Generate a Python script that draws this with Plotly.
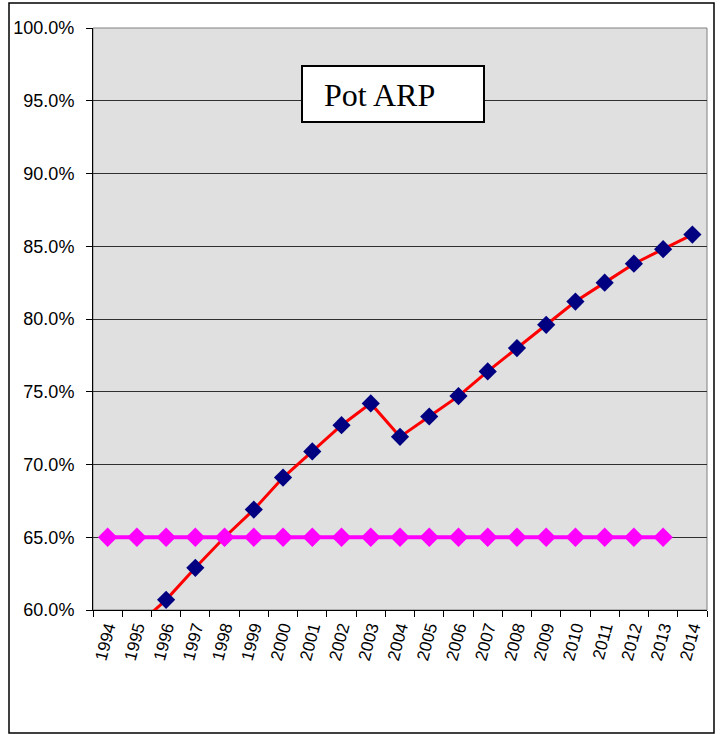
import plotly.graph_objects as go

years = [str(y) for y in range(1994, 2015)]
pot_arp = [0.569, 0.589, 0.607, 0.629, 0.650, 0.669, 0.691, 0.709, 0.727, 0.742,
           0.719, 0.733, 0.747, 0.764, 0.780, 0.796, 0.812, 0.825, 0.838, 0.848, 0.858]
target_years = [str(y) for y in range(1994, 2014)]
target = [0.65] * 20

fig = go.Figure()
fig.add_trace(go.Scatter(
    x=years, y=pot_arp, mode="lines+markers",
    line=dict(color="#FF0000", width=3),
    marker=dict(symbol="diamond", size=14, color="#000080"),
    cliponaxis=True, showlegend=False))
fig.add_trace(go.Scatter(
    x=target_years, y=target, mode="lines+markers",
    line=dict(color="#FF00FF", width=4),
    marker=dict(symbol="diamond", size=15, color="#FF00FF"),
    cliponaxis=False, showlegend=False))

W, H = 721, 734
L, R, T, B = 93, 14, 28, 124
pw, ph = W - L - R, H - T - B

def px(x):
    return (x - L) / pw

def py(y):
    return (H - B - y) / ph

fig.update_layout(
    width=W, height=H,
    margin=dict(l=L, r=R, t=T, b=B, pad=0),
    paper_bgcolor="white", plot_bgcolor="#E0E0E0",
    font=dict(family="Liberation Sans, Arial, sans-serif", color="black"),
    xaxis=dict(type="category", range=[-0.5, 20.5], tickson="boundaries",
               ticks="outside", ticklen=6, tickcolor="black",
               showline=True, linecolor="black", linewidth=1,
               showgrid=False, tickangle=-75,
               tickfont=dict(size=17, family="Liberation Sans, Arial, sans-serif")),
    yaxis=dict(range=[0.6, 1.0], dtick=0.05, tickformat=".1%",
               ticks="outside", ticklen=6, tickcolor="black",
               showline=True, linecolor="black", linewidth=1,
               showgrid=True, gridcolor="#303030", gridwidth=1, zeroline=False,
               ticklabelstandoff=8,
               tickfont=dict(size=18, family="Liberation Sans, Arial, sans-serif")),
    shapes=[
        dict(type="rect", xref="paper", yref="paper", x0=0, x1=1, y0=0, y1=1,
             line=dict(color="#808080", width=1), layer="below"),
        dict(type="rect", xref="paper", yref="paper",
             x0=px(302), x1=px(484), y0=py(122), y1=py(66),
             line=dict(color="black", width=2), fillcolor="white", layer="above"),
        dict(type="rect", xref="paper", yref="paper",
             x0=px(9), x1=px(714), y0=py(733), y1=py(3),
             line=dict(color="black", width=1.5), layer="above"),
    ],
    annotations=[
        dict(text="Pot ARP", xref="paper", yref="paper", x=px(322), y=py(95),
             xanchor="left", yanchor="middle", showarrow=False,
             font=dict(family="Liberation Serif, Times New Roman, serif", size=32, color="black")),
    ],
)

fig.write_html("out.html", config={"displayModeBar": False},
               post_script="document.body.style.margin='0';document.body.style.padding='0';")
